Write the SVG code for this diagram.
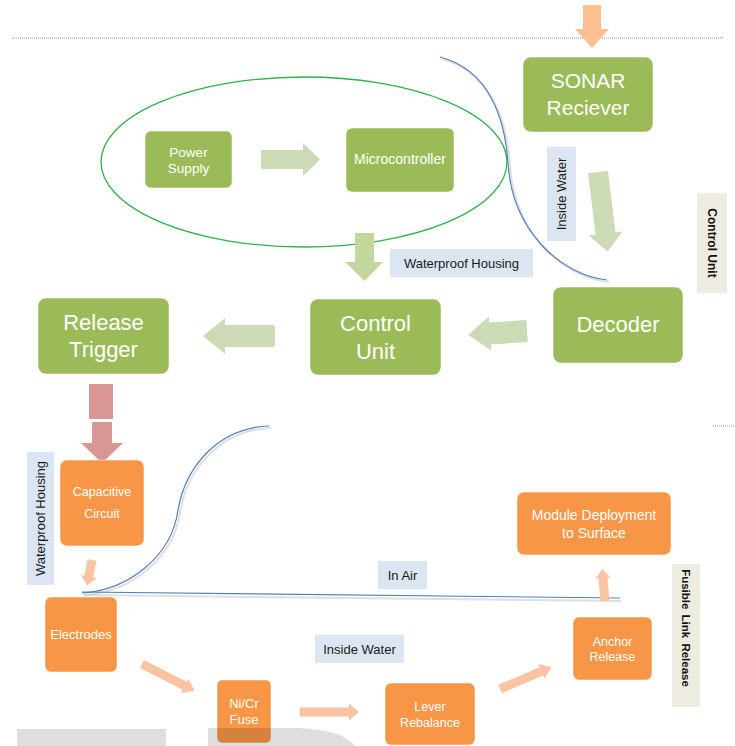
<svg xmlns="http://www.w3.org/2000/svg" width="735" height="746" viewBox="0 0 735 746">
<style>
.g{fill:#9BBB59;stroke:#ffffff;stroke-opacity:.5;stroke-width:1}
.o{fill:#F79646;stroke:#ffffff;stroke-opacity:.5;stroke-width:1}
.t{font-family:"Liberation Sans",Arial,sans-serif;fill:#ffffff;text-anchor:middle}
.l{font-family:"Liberation Sans",Arial,sans-serif;fill:#1a1a1a;text-anchor:middle;font-size:13px}
.b{font-family:"Liberation Sans",Arial,sans-serif;fill:#111;text-anchor:middle;font-weight:bold}
.blue{fill:none;stroke:#4F81BD;stroke-width:1.2}
.sh{fill:none;stroke:#bfbfbf;stroke-width:2;stroke-opacity:.5}
.lg{fill:#CCDAB6}
.la{fill:#FAC4A2}
.dot{stroke:#8c8c8c;stroke-width:1.2;stroke-dasharray:1 1}
</style>
<rect width="735" height="746" fill="#ffffff"/>
<line class="dot" x1="12" y1="38" x2="723" y2="38"/>
<line class="dot" x1="713" y1="426" x2="735" y2="426"/>

<g id="curves">
<path class="sh" d="M442,59 C492,72 507,122 510,165 C514,232 562,277 609,282"/>
<path class="blue" d="M440,57 C490,70 505,120 508,163 C512,230 560,275 607,280"/>
<ellipse cx="304" cy="162" rx="203" ry="85" fill="none" stroke="#2DB34A" stroke-width="1.3"/>
<path class="sh" d="M271,428 C217,430 187,472 180,512 C174,557 132,592 84,595"/>
<path class="blue" d="M269,426 C215,428 185,470 178,510 C172,555 130,590 82,593"/>
<path class="sh" d="M84,595 L621,601"/>
<path class="blue" d="M82,592 L620,598"/>
</g>

<g id="connectors">
<polygon fill="#FAC090" points="583,5 601,5 601,29 609,29 592,48 575,29 583,29"/>
<polygon class="lg" points="261,150 303,150 303,143 320,159.5 303,176 303,169 261,169"/>
<polygon fill="#C3D69B" points="355,233 374,233 374,262 383,262 364.5,281 345,262 355,262"/>
<polygon class="lg" transform="translate(598,172) rotate(83)" points="0,-10 62,-10 62,-17 80,0 62,17 62,10 0,10"/>
<polygon class="lg" transform="translate(527,331) rotate(176)" points="0,-11 37,-11 37,-17 59,0 37,17 37,11 0,11"/>
<polygon class="lg" transform="translate(275,336) rotate(180)" points="0,-11 50,-11 50,-18 72,0 50,18 50,11 0,11"/>
<rect x="89" y="384" width="24" height="35" fill="#D99694"/>
<polygon fill="#D99694" points="92,422 112,422 112,443 123,443 102,463 81,443 92,443"/>
<polygon class="la" transform="translate(92,560) rotate(101)" points="0,-4.5 17,-4.5 17,-8 26,0 17,8 17,4.5 0,4.5"/>
<polygon class="la" transform="translate(142,664) rotate(27)" points="0,-4.5 48,-4.5 48,-8 59,0 48,8 48,4.5 0,4.5"/>
<polygon class="la" transform="translate(300,712)" points="0,-4.5 49,-4.5 49,-8.5 59,0 49,8.5 49,4.5 0,4.5"/>
<polygon class="la" transform="translate(500,689) rotate(-23)" points="0,-4.5 45,-4.5 45,-8 56,0 45,8 45,4.5 0,4.5"/>
<polygon class="la" transform="translate(605,601) rotate(-95)" points="0,-4.5 23,-4.5 23,-7.5 32,0 23,7.5 23,4.5 0,4.5"/>
</g>

<g id="sonar"><rect class="g" x="523" y="57" width="130" height="75" rx="8"/>
<text class="t" x="588" y="88" font-size="21">SONAR</text><text class="t" x="588" y="115" font-size="21">Reciever</text></g>
<g id="power"><rect class="g" x="145" y="131" width="87" height="57" rx="6"/>
<text class="t" x="188.5" y="157" font-size="13.5">Power</text><text class="t" x="188.5" y="173" font-size="13.5">Supply</text></g>
<g id="micro"><rect class="g" x="346" y="128" width="108" height="64" rx="6"/>
<text class="t" x="400" y="164" font-size="14">Microcontroller</text></g>
<g id="decoder"><rect class="g" x="553" y="287" width="130" height="76" rx="8"/>
<text class="t" x="618" y="332" font-size="22">Decoder</text></g>
<g id="control"><rect class="g" x="310" y="299" width="131" height="76" rx="8"/>
<text class="t" x="375.5" y="331" font-size="22">Control</text><text class="t" x="375.5" y="359" font-size="22">Unit</text></g>
<g id="release"><rect class="g" x="38" y="298" width="131" height="76" rx="8"/>
<text class="t" x="103.5" y="330" font-size="22">Release</text><text class="t" x="103.5" y="357" font-size="22">Trigger</text></g>
<g id="capacitive"><rect class="o" x="60" y="460" width="84" height="86" rx="7"/>
<text class="t" x="102" y="496" font-size="12.5">Capacitive</text><text class="t" x="102" y="518" font-size="12.5">Circuit</text></g>
<g id="electrodes"><rect class="o" x="45" y="597" width="72" height="75" rx="6"/>
<text class="t" x="81" y="639" font-size="13">Electrodes</text></g>
<g id="fuse"><rect class="o" x="217" y="680" width="54" height="63" rx="5"/>
<text class="t" x="244" y="708" font-size="13">Ni/Cr</text><text class="t" x="244" y="724" font-size="13">Fuse</text></g>
<g id="lever"><rect class="o" x="385" y="683" width="90" height="62" rx="6"/>
<text class="t" x="430" y="711" font-size="12.5">Lever</text><text class="t" x="430" y="727" font-size="12.5">Rebalance</text></g>
<g id="anchor"><rect class="o" x="573" y="617" width="79" height="63" rx="6"/>
<text class="t" x="612.5" y="646" font-size="12.5">Anchor</text><text class="t" x="612.5" y="661" font-size="12.5">Release</text></g>
<g id="module"><rect class="o" x="517" y="492" width="154" height="63" rx="7"/>
<text class="t" x="594" y="520" font-size="14">Module Deployment</text><text class="t" x="594" y="538" font-size="14">to Surface</text></g>

<g id="labels">
<rect x="390" y="249" width="143" height="28" fill="#DCE6F2"/>
<text class="l" x="461.5" y="267.5">Waterproof Housing</text>
<rect x="547" y="147" width="29" height="94" fill="#DCE6F2"/>
<text class="l" transform="translate(566,194) rotate(-90)">Inside Water</text>
<rect x="697" y="193" width="30" height="100" fill="#EEECE1"/>
<text class="b" font-size="12" transform="translate(708,243) rotate(90)">Control Unit</text>
<rect x="27" y="452" width="27" height="133" fill="#DCE6F2"/>
<text class="l" font-size="12.3" transform="translate(45,518.5) rotate(-90)">Waterproof Housing</text>
<rect x="378" y="561" width="49" height="28" fill="#DCE6F2"/>
<text class="l" x="402.5" y="579.5">In Air</text>
<rect x="315" y="635" width="89" height="28" fill="#DCE6F2"/>
<text class="l" x="359.5" y="653.5">Inside Water</text>
<rect x="672" y="564" width="28" height="143" fill="#EEECE1"/>
<text class="b" font-size="11.5" word-spacing="2" transform="translate(682,628) rotate(90)">Fusible Link Release</text>
</g>

<g id="background-shapes">
<rect x="17" y="729" width="149" height="17" fill="#000000" fill-opacity="0.13"/>
<path d="M208,746 V728 H300 Q343,730 355,746 Z" fill="#000000" fill-opacity="0.13"/>
</g>
</svg>
